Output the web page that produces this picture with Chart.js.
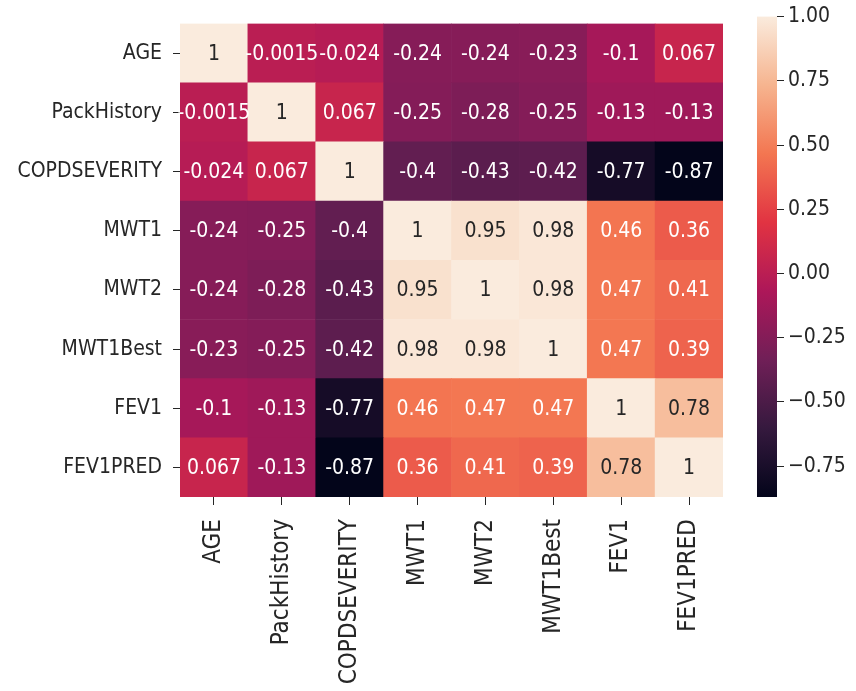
<!DOCTYPE html>
<html>
<head>
<meta charset="utf-8">
<script src="https://cdn.jsdelivr.net/npm/chart.js@4.4.1/dist/chart.umd.min.js"></script>
<style>
  body { margin: 0; background: #fff; }
  #wrap { position: relative; width: 856px; height: 691px; }
  #heat { position: absolute; left: 0; top: 0; }
  #cbar { position: absolute; left: 740px; top: 0; }
</style>
</head>
<body>
<div id="wrap">
  <div id="heat" style="width:740px;height:691px"><canvas id="heatmap"></canvas></div>
  <div id="cbar" style="width:116px;height:691px"><canvas id="colorbar"></canvas></div>
</div>
<script>
// variables, same order for rows (top to bottom) and columns (left to right)
const variables = ["AGE", "PackHistory", "COPDSEVERITY", "MWT1", "MWT2", "MWT1Best", "FEV1", "FEV1PRED"];

// correlation rows
const rowAGE          = [1, -0.0015, -0.024, -0.24, -0.24, -0.23, -0.1, 0.067];
const rowPackHistory  = [-0.0015, 1, 0.067, -0.25, -0.28, -0.25, -0.13, -0.13];
const rowCOPDSEVERITY = [-0.024, 0.067, 1, -0.4, -0.43, -0.42, -0.77, -0.87];
const rowMWT1         = [-0.24, -0.25, -0.4, 1, 0.95, 0.98, 0.46, 0.36];
const rowMWT2         = [-0.24, -0.28, -0.43, 0.95, 1, 0.98, 0.47, 0.41];
const rowMWT1Best     = [-0.23, -0.25, -0.42, 0.98, 0.98, 1, 0.47, 0.39];
const rowFEV1         = [-0.1, -0.13, -0.77, 0.46, 0.47, 0.47, 1, 0.78];
const rowFEV1PRED     = [0.067, -0.13, -0.87, 0.36, 0.41, 0.39, 0.78, 1];

const matrix = [rowAGE, rowPackHistory, rowCOPDSEVERITY, rowMWT1, rowMWT2, rowMWT1Best, rowFEV1, rowFEV1PRED];

// colour bar ticks
const cbarTicks = [1.00, 0.75, 0.50, 0.25, 0.00, -0.25, -0.50, -0.75];

const vmin = Math.min(...matrix.flat());
const vmax = Math.max(...matrix.flat());

/* rocket colormap stops */
const rocket = [
    [0.000, [3, 5, 26]],
    [1 / 7, [0x35, 0x19, 0x3e]],
    [2 / 7, [0x70, 0x1f, 0x57]],
    [3 / 7, [0xad, 0x17, 0x59]],
    [4 / 7, [0xe1, 0x33, 0x42]],
    [5 / 7, [0xf3, 0x76, 0x51]],
    [6 / 7, [0xf6, 0xb4, 0x8f]],
    [1.000, [0xfa, 0xeb, 0xdd]]
];

function rocketRGB(t) {
    t = Math.max(0, Math.min(1, t));
    for (let i = 1; i < rocket.length; i++) {
        if (t <= rocket[i][0]) {
            const [t0, c0] = rocket[i - 1];
            const [t1, c1] = rocket[i];
            const f = (t - t0) / (t1 - t0);
            return c0.map((c, k) => Math.round(c + (c1[k] - c) * f));
        }
    }
    return rocket[rocket.length - 1][1];
}

const norm = v => (v - vmin) / (vmax - vmin);
const toCss = rgb => `rgb(${rgb[0]},${rgb[1]},${rgb[2]})`;

function luminance(rgb) {
    const lin = rgb.map(c => {
        c /= 255;
        return c <= 0.03928 ? c / 12.92 : Math.pow((c + 0.055) / 1.055, 2.4);
    });
    return 0.2126 * lin[0] + 0.7152 * lin[1] + 0.0722 * lin[2];
}

const fmt = v => String(Number(v.toPrecision(2)));

const FONT = "'DejaVu Sans Condensed', 'DejaVu Sans', sans-serif";
const textColor = "#262626";

// one stacked dataset per row, bottom row first
const datasets = [];
for (let i = variables.length - 1; i >= 0; i--) {
    datasets.push({
        label: variables[i],
        data: variables.map(() => 1),
        values: matrix[i],
        backgroundColor: matrix[i].map(v => toCss(rocketRGB(norm(v)))),
        borderWidth: 0,
        barPercentage: 1.0,
        categoryPercentage: 1.0
    });
}

// annotate each cell
const annotate = {
    id: 'annotate',
    afterDatasetsDraw(chart) {
        const ctx = chart.ctx;
        ctx.save();
        ctx.font = `21px ${FONT}`;
        ctx.textAlign = 'center';
        ctx.textBaseline = 'middle';
        chart.data.datasets.forEach((ds, di) => {
            const meta = chart.getDatasetMeta(di);
            meta.data.forEach((bar, j) => {
                const v = ds.values[j];
                const rgb = rocketRGB(norm(v));
                ctx.fillStyle = luminance(rgb) > 0.408 ? textColor : "#ffffff";
                ctx.fillText(fmt(v), bar.x, (bar.y + bar.base) / 2 + 1);
            });
        });
        ctx.restore();
    }
};

new Chart(document.getElementById('heatmap'), {
    type: 'bar',
    data: { labels: variables, datasets: datasets },
    options: {
        responsive: true,
        maintainAspectRatio: false,
        animation: false,
        layout: { padding: { top: 16, right: 17, left: 0, bottom: 0 } },
        plugins: { legend: { display: false }, tooltip: { enabled: false } },
        scales: {
            x: {
                stacked: true,
                grid: { drawOnChartArea: false, drawTicks: true, tickLength: 8, color: textColor, offset: false },
                border: { display: false },
                ticks: {
                    color: textColor,
                    font: { family: FONT, size: 24 },
                    minRotation: 90,
                    maxRotation: 90,
                    padding: 14,
                    autoSkip: false
                },
                afterFit(scale) { scale.height = 194; }
            },
            y: {
                stacked: true,
                min: 0,
                max: 8,
                grid: { drawOnChartArea: false, drawTicks: true, tickLength: 7, color: textColor },
                border: { display: false },
                afterBuildTicks(scale) {
                    scale.ticks = variables.map((_, i) => ({ value: i + 0.5 }));
                },
                ticks: {
                    color: textColor,
                    font: { family: FONT, size: 21 },
                    padding: 11,
                    autoSkip: false,
                    callback: value => variables[variables.length - 1 - Math.floor(value)]
                },
                afterFit(scale) { scale.width = 180; }
            }
        }
    },
    plugins: [annotate]
});

// colour bar gradient drawn through the y scale
const gradientBar = {
    id: 'gradientBar',
    beforeDatasetsDraw(chart) {
        const { ctx, chartArea } = chart;
        const y = chart.scales.y;
        const yTop = y.getPixelForValue(vmax);
        const yBot = y.getPixelForValue(vmin);
        const g = ctx.createLinearGradient(0, yBot, 0, yTop);
        rocket.forEach(([t, c]) => g.addColorStop(t, toCss(c)));
        ctx.save();
        ctx.fillStyle = g;
        ctx.fillRect(chartArea.left, yTop, chartArea.right - chartArea.left, yBot - yTop);
        ctx.restore();
    }
};

new Chart(document.getElementById('colorbar'), {
    type: 'bar',
    data: { labels: [''], datasets: [{ data: [], backgroundColor: 'transparent' }] },
    options: {
        responsive: true,
        maintainAspectRatio: false,
        animation: false,
        layout: { padding: { top: 16, left: 17, right: 0, bottom: 0 } },
        plugins: { legend: { display: false }, tooltip: { enabled: false } },
        scales: {
            x: {
                display: true,
                grid: { display: false },
                border: { display: false },
                ticks: { display: false },
                afterFit(scale) { scale.height = 194; }
            },
            y: {
                position: 'right',
                min: vmin,
                max: vmax,
                grid: { drawOnChartArea: false, drawTicks: true, tickLength: 7, color: textColor },
                border: { display: false },
                afterBuildTicks(scale) {
                    scale.ticks = cbarTicks.map(v => ({ value: v }));
                },
                ticks: {
                    color: textColor,
                    font: { family: FONT, size: 21 },
                    padding: 4,
                    callback: v => (v < 0 ? '\u2212' : '') + Math.abs(v).toFixed(2)
                },
                afterFit(scale) { scale.width = 79; }
            }
        }
    },
    plugins: [gradientBar]
});
</script>
</body>
</html>
